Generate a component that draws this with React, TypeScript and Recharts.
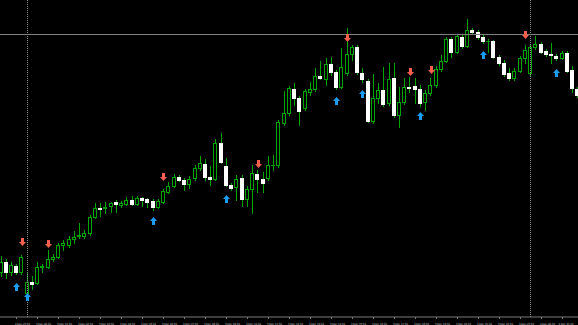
import { ComposedChart, Bar, Scatter, XAxis, YAxis, ReferenceLine } from 'recharts'

// M15 bars
const opens = [
  1.1045, 1.1055, 1.1045, 1.1051, 1.1045, 1.1024, 1.1035, 1.1034, 1.10495, 1.1050,
  1.1058, 1.1060, 1.1072, 1.1072, 1.1078, 1.1081, 1.1081, 1.1084, 1.1100, 1.1109,
  1.1109, 1.1111, 1.1115, 1.1112, 1.1113, 1.1117, 1.1113, 1.1119, 1.1118, 1.1116,
  1.1110, 1.1115, 1.1125, 1.1131, 1.1140, 1.1137, 1.1133, 1.1139, 1.1149, 1.1153,
  1.1140, 1.1138, 1.1174, 1.1151, 1.1132, 1.1130, 1.1139, 1.1118, 1.1128, 1.1143,
  1.1138, 1.1139, 1.11515, 1.1152, 1.1194, 1.1204, 1.1228, 1.1219, 1.1209, 1.1225,
  1.1228, 1.1241, 1.1238, 1.1253, 1.1245, 1.1230, 1.1244, 1.1263, 1.1270, 1.1244,
  1.1236, 1.1196, 1.1219, 1.1227, 1.1214, 1.1239, 1.1202, 1.1215, 1.1230, 1.1231,
  1.1228, 1.1215, 1.1224, 1.1232, 1.1248, 1.1256, 1.1278, 1.1265, 1.1280, 1.1271,
  1.1287, 1.1285, 1.1280, 1.12755, 1.1276, 1.1260, 1.1254, 1.1244, 1.1239, 1.1246,
  1.1259, 1.1244, 1.1270, 1.1273, 1.1266, 1.12625, 1.1261, 1.1259, 1.1264, 1.1247, 1.1228,
]
const highs = [
  1.1061, 1.1058, 1.1055, 1.1053, 1.1062, 1.1044, 1.1041, 1.1055, 1.1053, 1.1067,
  1.1063, 1.1074, 1.1077, 1.1081, 1.1086, 1.1094, 1.1087, 1.1102, 1.1114, 1.1114,
  1.1115, 1.1115, 1.1117, 1.1116, 1.1120, 1.1121, 1.1121, 1.1120, 1.1119, 1.1118,
  1.1118, 1.1128, 1.1135, 1.1143, 1.1142, 1.1139, 1.1141, 1.1152, 1.1161, 1.1158,
  1.1151, 1.1178, 1.1184, 1.1159, 1.1134, 1.1142, 1.1142, 1.1131, 1.1152, 1.1147,
  1.1145, 1.1161, 1.1162, 1.1197, 1.1226, 1.1231, 1.1234, 1.1221, 1.1228, 1.1235,
  1.1249, 1.1256, 1.1259, 1.1260, 1.1247, 1.1269, 1.1289, 1.1272, 1.1272, 1.1249,
  1.1238, 1.1243, 1.1234, 1.1250, 1.1254, 1.1254, 1.1230, 1.1239, 1.1240, 1.1239,
  1.1232, 1.1227, 1.1239, 1.1251, 1.1262, 1.1280, 1.1280, 1.1283, 1.1283, 1.1298,
  1.1289, 1.1287, 1.1282, 1.1278, 1.1277, 1.1262, 1.1257, 1.1249, 1.1249, 1.1261,
  1.1272, 1.1272, 1.1281, 1.1275, 1.1268, 1.1274, 1.1263, 1.1266, 1.1266, 1.1251, 1.1230,
]
const lows = [
  1.1041, 1.1039, 1.1042, 1.1043, 1.1043, 1.1023, 1.1028, 1.1033, 1.1045, 1.1049,
  1.1056, 1.1059, 1.1067, 1.1070, 1.1074, 1.1079, 1.1079, 1.1082, 1.1099, 1.1101,
  1.1104, 1.1105, 1.1105, 1.1110, 1.1112, 1.1112, 1.1112, 1.1111, 1.1110, 1.1107,
  1.1109, 1.1114, 1.1124, 1.1130, 1.1136, 1.1127, 1.1129, 1.1137, 1.1147, 1.1137,
  1.1132, 1.1137, 1.1154, 1.1131, 1.1127, 1.1117, 1.1111, 1.1111, 1.1104, 1.1125,
  1.1125, 1.1137, 1.1147, 1.1150, 1.1192, 1.1202, 1.1212, 1.1192, 1.1207, 1.1222,
  1.1226, 1.1238, 1.1232, 1.1242, 1.1228, 1.1229, 1.1242, 1.1257, 1.1243, 1.1235,
  1.1195, 1.1194, 1.1214, 1.1211, 1.1212, 1.1200, 1.1190, 1.1213, 1.1225, 1.1214,
  1.1211, 1.1207, 1.1222, 1.1230, 1.1246, 1.1255, 1.1260, 1.1264, 1.1269, 1.1270,
  1.1283, 1.1278, 1.1274, 1.1265, 1.1259, 1.1252, 1.1241, 1.1237, 1.1237, 1.1245,
  1.1254, 1.1242, 1.1268, 1.1264, 1.1261, 1.1254, 1.1257, 1.1258, 1.1245, 1.1225, 1.1220,
]
const closes = [
  1.1055, 1.1045, 1.1052, 1.1045, 1.1060, 1.1035, 1.10335, 1.1050, 1.10505, 1.1058,
  1.1060, 1.1072, 1.1074, 1.1078, 1.1080, 1.1082, 1.1084, 1.1100, 1.1109, 1.1108,
  1.1110, 1.1114, 1.1113, 1.1114, 1.1117, 1.1113, 1.1119, 1.11175, 1.1115, 1.1110,
  1.1116, 1.1126, 1.1131, 1.1140, 1.1137, 1.1133, 1.1138, 1.1149, 1.1154, 1.1140,
  1.1138, 1.1174, 1.1155, 1.1132, 1.1129, 1.1138, 1.1118, 1.1128, 1.1144, 1.1138,
  1.1134, 1.1152, 1.1152, 1.1195, 1.1204, 1.1229, 1.1219, 1.1206, 1.1226, 1.1228,
  1.1241, 1.1239, 1.1253, 1.1245, 1.1230, 1.1250, 1.1263, 1.1270, 1.1245, 1.1238,
  1.1196, 1.1219, 1.1227, 1.1213, 1.1238, 1.1202, 1.1215, 1.1230, 1.12295, 1.1228,
  1.1214, 1.1224, 1.1232, 1.1248, 1.1256, 1.1278, 1.1265, 1.1281, 1.1271, 1.1287,
  1.1285, 1.1280, 1.1276, 1.1276, 1.1260, 1.1254, 1.1243, 1.1239, 1.1246, 1.1259,
  1.1267, 1.1270, 1.1273, 1.1265, 1.1263, 1.12615, 1.1259, 1.1264, 1.1246, 1.1229, 1.1222,
]

// signal arrows (bar index + price)
const upBars = [3, 5, 29, 43, 64, 69, 80, 92, 106]
const upPrices = [1.103, 1.102, 1.10965, 1.1118, 1.12155, 1.12235, 1.12005, 1.12615, 1.1244]
const downBars = [4, 9, 31, 49, 66, 78, 82, 100]
const downPrices = [1.1075, 1.1073, 1.11405, 1.1153, 1.12785, 1.1245, 1.1247, 1.1282]

const separatorBars = [5, 101]
const hLinePrice = 1.12825

const labelBars = [3, 7, 11, 15, 19, 23, 27, 31, 35, 39, 43, 47, 51, 55, 59, 63, 67, 71, 75, 79, 83, 87, 91, 95, 99, 103, 107]
const timeLabels = [
  '2 Dec 23:30', '3 Dec 00:30', '3 Dec 01:30', '3 Dec 02:30', '3 Dec 03:30', '3 Dec 04:30',
  '3 Dec 05:30', '3 Dec 06:30', '3 Dec 07:30', '3 Dec 08:30', '3 Dec 09:30', '3 Dec 10:30',
  '3 Dec 11:30', '3 Dec 12:30', '3 Dec 13:30', '3 Dec 14:30', '3 Dec 15:30', '3 Dec 16:30',
  '3 Dec 17:30', '3 Dec 18:30', '3 Dec 19:30', '3 Dec 20:30', '3 Dec 21:30', '3 Dec 22:30',
  '3 Dec 23:30', '4 Dec 00:30', '4 Dec 01:30',
]

const WICK = '#00a400'
const UP_COLOR = '#1a9cf0'
const DOWN_COLOR = '#f4604c'

const data = opens.map((o, i) => {
  const u = upBars.indexOf(i)
  const d = downBars.indexOf(i)
  return {
    i,
    o,
    c: closes[i],
    range: [lows[i], highs[i]],
    up: u >= 0 ? upPrices[u] : null,
    dn: d >= 0 ? downPrices[d] : null,
  }
})

function Candle(props: any) {
  const { x, y, width, height, payload } = props
  if (!payload || !Number.isFinite(x) || !Number.isFinite(y)) return <g />
  const [lo, hi] = payload.range
  const top = Math.min(y, y + height)
  const k = Math.abs(height) / (hi - lo)
  const toY = (p: number) => top + (hi - p) * k
  const cx = Math.round(x + width / 2) - 0.5
  const yo = toY(payload.o)
  const yc = toY(payload.c)
  const r1 = Math.round(Math.min(yo, yc))
  const r2 = Math.round(Math.max(yo, yc))
  const bull = payload.c >= payload.o
  const yh = Math.round(toY(hi))
  const yl = Math.round(toY(lo))
  return (
    <g>
      <line x1={cx} x2={cx} y1={yh} y2={yl + 1} stroke={WICK} strokeWidth={1} />
      {r2 - r1 < 1 ? (
        <line x1={cx - 2.5} x2={cx + 1.5} y1={r1 + 0.5} y2={r1 + 0.5} stroke={bull ? WICK : '#e8ffe8'} />
      ) : bull ? (
        <rect x={cx - 2} y={r1 + 0.5} width={3} height={r2 - r1} fill="#000" stroke={WICK} strokeWidth={1} />
      ) : (
        <rect x={cx - 2.5} y={r1} width={4} height={r2 - r1 + 1} fill="#fff" />
      )}
    </g>
  )
}

function UpArrow(props: any) {
  const { cx, cy, payload } = props
  if (!payload || payload.up == null || !Number.isFinite(cy)) return <g />
  const x = Math.round(cx) - 0.5
  const yy = Math.round(cy)
  const d = `M${x},${yy - 4} L${x + 3.5},${yy} L${x + 1.5},${yy} L${x + 1.5},${yy + 4} L${x - 1.5},${yy + 4} L${x - 1.5},${yy} L${x - 3.5},${yy} Z`
  return <path d={d} fill={UP_COLOR} />
}

function DownArrow(props: any) {
  const { cx, cy, payload } = props
  if (!payload || payload.dn == null || !Number.isFinite(cy)) return <g />
  const x = Math.round(cx) - 0.5
  const yy = Math.round(cy)
  const d = `M${x},${yy + 4} L${x + 3.5},${yy} L${x + 1.5},${yy} L${x + 1.5},${yy - 4} L${x - 1.5},${yy - 4} L${x - 1.5},${yy} L${x - 3.5},${yy} Z`
  return <path d={d} fill={DOWN_COLOR} />
}

function TimeTick(props: any) {
  const { x, y, index } = props
  const k = labelBars.indexOf(index)
  if (k < 0) return <g />
  const tx = Math.round(x) - 0.5
  // keep the last label inside the window
  const textX = Math.min(tx - 1.5, 559.5)
  return (
    <g>
      <line x1={tx} x2={tx} y1={y} y2={y + 2} stroke="#7a7a7a" />
      <text
        x={textX}
        y={y + 7.5}
        fontSize={2.9}
        fill="#d0d0d0"
        fontFamily="DejaVu Sans"
        textLength={15}
        lengthAdjust="spacingAndGlyphs"
      >
        {timeLabels[k]}
      </text>
    </g>
  )
}

const separatorLine = (p: any) => {
  const x = Math.round(p.x1) - 0.5
  return <line x1={x} x2={x} y1={p.y1} y2={p.y2} stroke="#8c8c8c" strokeDasharray="1 1" />
}

export default function App() {
  return (
    <div style={{ position: 'fixed', left: 0, top: 0, width: 578, height: 325, background: '#000', overflow: 'hidden' }}>
      <div style={{ position: 'absolute', left: -1, top: 0 }}>
        <ComposedChart width={582} height={325} data={data} margin={{ top: 0, right: 0, bottom: 0, left: 0 }}>
          <XAxis
            dataKey="i"
            type="category"
            height={8}
            interval={0}
            tickSize={0}
            tickMargin={0}
            tickLine={false}
            axisLine={{ stroke: '#7a7a7a' }}
            tick={<TimeTick />}
          />
          <YAxis hide type="number" domain={[1.1, 1.1317]} allowDataOverflow />
          <ReferenceLine y={hLinePrice} stroke="#808080" strokeWidth={1} />
          {separatorBars.map((b) => (
            <ReferenceLine key={b} x={b} shape={separatorLine} />
          ))}
          <Bar dataKey="range" shape={<Candle />} isAnimationActive={false} />
          <Scatter dataKey="up" shape={<UpArrow />} isAnimationActive={false} />
          <Scatter dataKey="dn" shape={<DownArrow />} isAnimationActive={false} />
        </ComposedChart>
      </div>
    </div>
  )
}
